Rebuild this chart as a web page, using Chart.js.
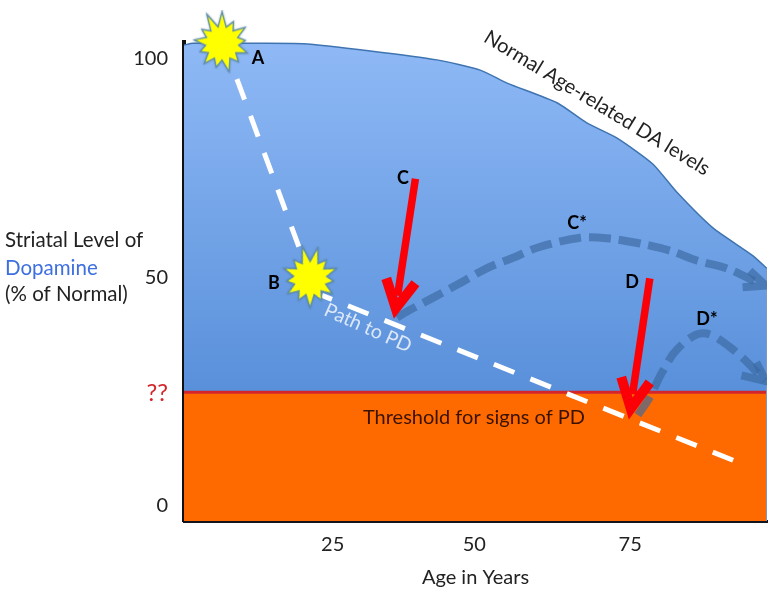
<!DOCTYPE html>
<html>
<head>
<meta charset="utf-8">
<title>Striatal dopamine and age</title>
<script src="https://cdn.jsdelivr.net/npm/chart.js@4"></script>
<style>
html,body{margin:0;padding:0;background:#fff}
canvas{display:block}
</style>
</head>
<body>
<canvas id="grafico" width="776" height="592"></canvas>
<script>
// ages and dopamine levels
const normalAges=[0,1.5,11.1,20,31.3,42.5,49.8,54.3,62.7,67.7,72.8,78.8,82.9,88.9,95.6,98];
const normalLevels=[103.1,103.5,103.5,103.4,101.8,99.8,97.5,94.6,90.2,85.7,82.3,76.5,70.1,62.2,56,53.1];

const thresholdAges=[0,98];
const thresholdLevels=[25.4,25.4];

const edgeAges=[98,98];
const edgeLevels=[-3.4,53.1];

const earlyPathAges=[8.9,19.3];
const earlyPathLevels=[95.5,58];
const latePathAges=[23.2,92.3];
const latePathLevels=[47.1,10.2];

const cStarAges=[35.8,37.5,41.9,46.2,50.8,55.3,59.5,66.6,71.6,76.7,81.7,86.2,91.3,96.8];
const cStarLevels=[42.1,43.5,46.6,49.7,53.1,55.5,57.8,60,59.8,58.7,57.1,54.9,53.1,49.7];
const cStarHeadAges=[95.1,97.8,93.9];
const cStarHeadLevels=[52.6,49.3,48.9];

const dStarAges=[76.3,78.3,80.3,83,87.2,91.8,97.7];
const dStarLevels=[20.3,24.3,29.7,35.2,38.6,35.5,28.1];
const dStarHeadAges=[96.2,97.8,93.7];
const dStarHeadLevels=[32.1,27.9,29.2];

const arrowCAges=[38.9,35.9];
const arrowCLevels=[73.2,47];
const arrowCHeadAges=[34,35.6,38.9];
const arrowCHeadLevels=[50.9,44.2,49.8];

const arrowDAges=[78.3,75.4];
const arrowDLevels=[50.9,25];
const arrowDHeadAges=[73.5,75.1,78.3];
const arrowDHeadLevels=[28.8,21.8,27.6];

const burstAges=[6.4,21.2];
const burstLevels=[103.5,50.9];

const xTickValues=[25,48.8,75];
const xTickLabels=["25","50","75"];
const yTickValues=[0,25.2,51.1,100];
const yTickLabels=["0","??","50","100"];

const FONT="Lato";

function pairs(xs,ys){
return xs.map((x,i)=>({x:x,y:ys[i]}));
}

// yellow starburst used as point style
function makeBurst(){
let size=66;
let c=document.createElement("canvas");
c.width=size;
c.height=size;
let g=c.getContext("2d");
let outer=[29,23,26,22,25,23,27,23,25,22,26,23,30];
let inner=15.5;
g.beginPath();
outer.forEach((r,i)=>{
let a=i/outer.length*Math.PI*2-Math.PI/2;
let b=(i+0.5)/outer.length*Math.PI*2-Math.PI/2;
g.lineTo(size/2+r*Math.cos(a),size/2+r*Math.sin(a));
g.lineTo(size/2+inner*Math.cos(b),size/2+inner*Math.sin(b));
});
g.closePath();
g.shadowColor="rgba(60,100,130,0.6)";
g.shadowBlur=2;
g.lineWidth=2.5;
g.strokeStyle="#5f8fa6";
g.stroke();
g.shadowBlur=0;
g.fillStyle="#ffff00";
g.fill();
return c;
}

const ctx=document.getElementById("grafico").getContext("2d");

const blueFill=ctx.createLinearGradient(0,42,0,392);
blueFill.addColorStop(0,"#8fb9f6");
blueFill.addColorStop(1,"#5990da");

const DASH_BLUE="rgba(58,104,160,0.65)";

let datasets=[
{data:pairs(normalAges,normalLevels),borderColor:"#3f74b0",borderWidth:1.5,fill:"start",backgroundColor:blueFill,tension:0.2},
{data:pairs(thresholdAges,thresholdLevels),borderColor:"#d3262c",borderWidth:3,fill:"start",backgroundColor:"#ff6a00"},
{data:pairs(edgeAges,edgeLevels),borderColor:"#7f97c4",borderWidth:2},
{data:pairs(cStarAges,cStarLevels),borderColor:DASH_BLUE,borderWidth:8,borderDash:[22,8],tension:0.3},
{data:pairs(cStarHeadAges,cStarHeadLevels),borderColor:DASH_BLUE,borderWidth:8,borderJoinStyle:"miter"},
{data:pairs(dStarAges,dStarLevels),borderColor:DASH_BLUE,borderWidth:8,borderDash:[22,9],tension:0.35},
{data:pairs(dStarHeadAges,dStarHeadLevels),borderColor:DASH_BLUE,borderWidth:8,borderJoinStyle:"miter"},
{data:pairs(earlyPathAges,earlyPathLevels),borderColor:"#ffffff",borderWidth:5,borderDash:[22,17.3]},
{data:pairs(latePathAges,latePathLevels),borderColor:"#ffffff",borderWidth:5,borderDash:[22,17.3],borderDashOffset:11.3},
{data:pairs(arrowCAges,arrowCLevels),borderColor:"#fb0007",borderWidth:7.5},
{data:pairs(arrowCHeadAges,arrowCHeadLevels),borderColor:"#fb0007",borderWidth:10,borderJoinStyle:"miter"},
{data:pairs(arrowDAges,arrowDLevels),borderColor:"#fb0007",borderWidth:7.5},
{data:pairs(arrowDHeadAges,arrowDHeadLevels),borderColor:"#fb0007",borderWidth:10,borderJoinStyle:"miter"},
{data:pairs(burstAges,burstLevels),showLine:false,pointRadius:28,pointStyle:makeBurst(),pointRotation:[0,14],clip:false}
];

// later datasets go on top
datasets.forEach((d,i)=>{
d.order=-i;
if(d.showLine===undefined)d.showLine=true;
});

// text that sits on the picture, not on an axis
const notes=[
{t:"A",x:258,y:58,bold:true,size:18},
{t:"B",x:274,y:283,bold:true,size:18},
{t:"C",x:403,y:178,bold:true,size:18},
{t:"C*",x:577,y:223,bold:true,size:18},
{t:"D",x:632,y:282,bold:true,size:18},
{t:"D*",x:707,y:319,bold:true,size:18},
{t:"Normal Age-related DA levels",x:597,y:103,size:20,rot:31.3,color:"#222"},
{t:"Path to PD",x:368,y:328,size:19.5,rot:24,color:"#dce8f8"},
{t:"Threshold for signs of PD",x:474,y:418,size:20,color:"#3a1200"},
{t:"Striatal Level of",x:5,y:240,size:20.5,align:"left",color:"#222"},
{t:"Dopamine",x:5,y:268,size:20.5,align:"left",color:"#3d6fe0"},
{t:"(% of Normal)",x:5,y:294,size:20.5,align:"left",color:"#222"}
];

const notesPlugin={
id:"notes",
afterDraw(chart){
let c=chart.ctx;
notes.forEach(n=>{
c.save();
c.translate(n.x,n.y);
if(n.rot)c.rotate(n.rot*Math.PI/180);
c.font=(n.bold?"bold ":"")+n.size+"px "+FONT;
c.fillStyle=n.color||"#000";
c.textAlign=n.align||"center";
c.textBaseline="middle";
c.fillText(n.t,0,0);
c.restore();
});
}
};

new Chart(ctx,{
type:"scatter",
data:{datasets:datasets},
plugins:[notesPlugin],
options:{
responsive:false,
animation:false,
layout:{autoPadding:false,padding:{left:0,top:42,right:9,bottom:0}},
elements:{point:{radius:0}},
plugins:{legend:{display:false},tooltip:{enabled:false}},
scales:{
x:{
type:"linear",
min:0,
max:98,
grid:{display:false,drawTicks:false},
border:{color:"#14141e",width:3},
afterBuildTicks(axis){axis.ticks=xTickValues.map(v=>({value:v}));},
afterFit(axis){axis.height=71;axis.paddingLeft=0;axis.paddingRight=0;},
ticks:{
autoSkip:false,
maxRotation:0,
padding:12,
color:"#222",
font:{family:FONT,size:20},
callback:(v,i)=>xTickLabels[i]
},
title:{display:true,text:"Age in Years",color:"#222",font:{family:FONT,size:20},padding:{top:6,bottom:2}}
},
y:{
type:"linear",
min:-3.4,
max:103.8,
grid:{display:false,drawTicks:false},
border:{color:"#111",width:4},
afterBuildTicks(axis){axis.ticks=yTickValues.map(v=>({value:v}));},
afterFit(axis){axis.width=184;axis.paddingTop=0;axis.paddingBottom=0;},
ticks:{
autoSkip:false,
padding:16,
color:c=>yTickLabels[c.index]==="??"?"#d3262c":"#222",
font:c=>({family:FONT,size:yTickLabels[c.index]==="??"?24:20}),
callback:(v,i)=>yTickLabels[i]
}
}
}
}
});
</script>
</body>
</html>
